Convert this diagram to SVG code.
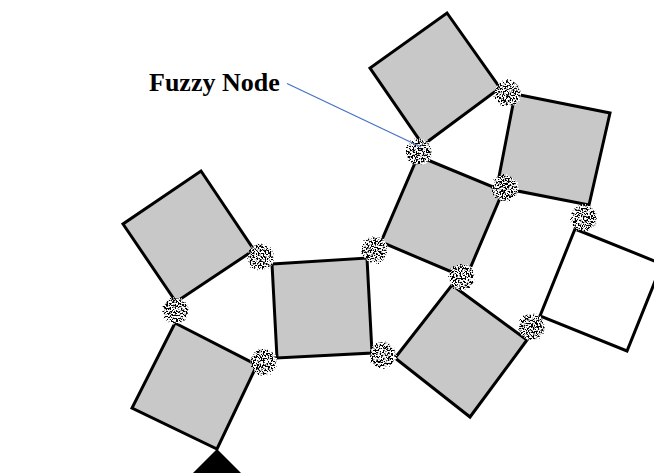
<svg xmlns="http://www.w3.org/2000/svg" width="654" height="473" viewBox="0 0 654 473">
  <style>
    .tile { fill: #c8c8c8; stroke: #000; stroke-width: 3; stroke-linejoin: miter; }
    .tile.open { fill: #fff; }
    .fuzzy { fill: #fff; filter: url(#grain); }
    .leader { stroke: #4472c4; stroke-width: 1.2; fill: none; }
    .label { font-family: "Liberation Serif", "Times New Roman", serif; font-weight: bold; font-size: 26px; fill: #000; }
  </style>
  <defs>
    <!-- speckled, ragged-edged disk for the fuzzy joints -->
    <filter id="grain" x="-40%" y="-40%" width="180%" height="180%">
      <feTurbulence type="fractalNoise" baseFrequency="0.6" numOctaves="2" seed="7" result="noise"/>
      <feDisplacementMap in="SourceGraphic" in2="noise" scale="6" xChannelSelector="R" yChannelSelector="G" result="disk"/>
      <feColorMatrix in="noise" type="matrix" values="0 0 0 0 0  0 0 0 0 0  0 0 0 0 0  12 0 0 0 -5.6" result="dots"/>
      <feComposite in="dots" in2="disk" operator="in" result="spots"/>
      <feMerge>
        <feMergeNode in="disk"/>
        <feMergeNode in="spots"/>
      </feMerge>
    </filter>
  </defs>

  <rect width="654" height="473" fill="#fff"/>

  <!-- square tiles -->
  <g id="tile-a"><polygon class="tile" points="201,171 254,250 176,302 123,224"/></g>
  <g id="tile-b"><polygon class="tile" points="175,323 257,365 217,449 132,408"/></g>
  <g id="tile-c"><polygon class="tile" points="272,264 367,258 372,353 277,358"/></g>
  <g id="tile-d"><polygon class="tile" points="418,156 503,191 466,278 381,242"/></g>
  <g id="tile-e"><polygon class="tile" points="447,13 500,88 423,145 370,68"/></g>
  <g id="tile-f"><polygon class="tile" points="515,94 610,113 589,205 497,187"/></g>
  <g id="tile-g"><polygon class="tile" points="452,285 527,340 470,417 395,358"/></g>
  <g id="tile-h"><polygon class="tile open" points="575,229 662,264 627,351 540,316"/></g>

  <!-- anchor wedge under the lowest tile -->
  <g id="anchor"><polygon points="217,449 190,476 244,476" fill="#000"/></g>

  <!-- fuzzy joints -->
  <g id="fuzzy-1"><circle class="fuzzy" cx="261" cy="257" r="13"/></g>
  <g id="fuzzy-2"><circle class="fuzzy" cx="176" cy="311" r="13"/></g>
  <g id="fuzzy-3"><circle class="fuzzy" cx="264" cy="362" r="13"/></g>
  <g id="fuzzy-4"><circle class="fuzzy" cx="375" cy="250" r="13"/></g>
  <g id="fuzzy-5"><circle class="fuzzy" cx="383" cy="355" r="13"/></g>
  <g id="fuzzy-6"><circle class="fuzzy" cx="419" cy="152" r="13"/></g>
  <g id="fuzzy-7"><circle class="fuzzy" cx="508" cy="93" r="13"/></g>
  <g id="fuzzy-8"><circle class="fuzzy" cx="505" cy="188" r="13"/></g>
  <g id="fuzzy-9"><circle class="fuzzy" cx="584" cy="218" r="13"/></g>
  <g id="fuzzy-10"><circle class="fuzzy" cx="462" cy="277" r="13"/></g>
  <g id="fuzzy-11"><circle class="fuzzy" cx="532" cy="327" r="13"/></g>

  <!-- callout -->
  <g id="callout">
    <text class="label" x="149" y="91">Fuzzy Node</text>
  </g>
  <g id="connectors">
    <line class="leader" x1="287" y1="83.5" x2="421" y2="147"/>
  </g>
</svg>
